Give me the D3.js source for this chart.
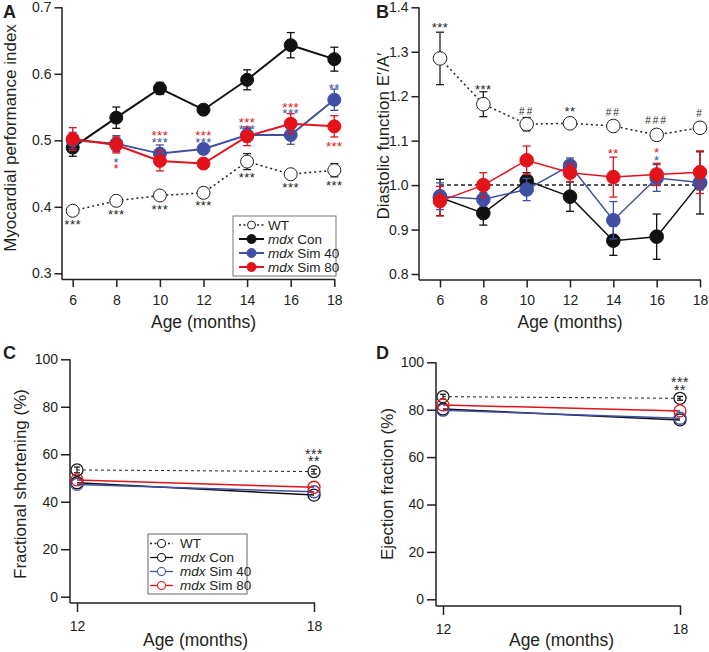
<!DOCTYPE html>
<html><head><meta charset="utf-8">
<script src="https://cdn.jsdelivr.net/npm/d3@7"></script>
<style>
body{margin:0;background:#fff;}
svg text{font-family:"Liberation Sans",Arial,Helvetica,sans-serif;}
</style></head><body>
<svg id="c" width="709" height="652"></svg>
<script>
// ---------- DATA ----------
const ages = [6, 8, 10, 12, 14, 16, 18];
const ageTicks = [6, 8, 10, 12, 14, 16, 18];
const seriesNames = ["WT", "mdx Con", "mdx Sim 40", "mdx Sim 80"];

// Panel A: Myocardial performance index
const mpiWT = [0.394, 0.409, 0.417, 0.421, 0.468, 0.449, 0.455];
const mpiWTErr = [0.006, 0.005, 0.005, 0.005, 0.012, 0.006, 0.010];
const mpiCon = [0.489, 0.534, 0.578, 0.546, 0.591, 0.643, 0.622];
const mpiConErr = [0.013, 0.016, 0.009, 0.004, 0.015, 0.019, 0.018];
const mpiS40 = [0.500, 0.495, 0.480, 0.487, 0.508, 0.508, 0.561];
const mpiS40Err = [0.012, 0.012, 0.013, 0.004, 0.010, 0.014, 0.016];
const mpiS80 = [0.502, 0.493, 0.469, 0.465, 0.506, 0.525, 0.521];
const mpiS80Err = [0.017, 0.012, 0.015, 0.004, 0.014, 0.015, 0.016];
const mpiTicks = [0.3, 0.4, 0.5, 0.6, 0.7];
// significance marks: [age, value, text, series]
const mpiMarks = [
  [6, 0.3786, "***", "WT"], [8, 0.3936, "***", "WT"], [10, 0.4012, "***", "WT"],
  [12, 0.4072, "***", "WT"], [14, 0.4493, "***", "WT"], [16, 0.4343, "***", "WT"],
  [18, 0.4373, "***", "WT"],
  [8, 0.4714, "*", "mdx Sim 40"], [8, 0.4629, "*", "mdx Sim 80"],
  [10, 0.512, "***", "mdx Sim 80"], [10, 0.5024, "***", "mdx Sim 40"],
  [12, 0.512, "***", "mdx Sim 80"], [12, 0.5024, "***", "mdx Sim 40"],
  [14, 0.5316, "***", "mdx Sim 80"], [14, 0.5215, "***", "mdx Sim 40"],
  [16, 0.5541, "***", "mdx Sim 80"], [16, 0.5456, "***", "mdx Sim 40"],
  [18, 0.5832, "**", "mdx Sim 40"], [18, 0.4964, "***", "mdx Sim 80"]
];

// Panel B: Diastolic function E'/A'
const eaWT = [1.285, 1.182, 1.137, 1.139, 1.133, 1.113, 1.129];
const eaWTErr = [0.059, 0.028, 0.015, 0.010, 0.010, 0.012, 0.012];
const eaCon = [0.972, 0.937, 1.010, 0.974, 0.875, 0.884, 1.005];
const eaConErr = [0.041, 0.027, 0.018, 0.033, 0.033, 0.051, 0.070];
const eaS40 = [0.975, 0.968, 0.990, 1.044, 0.921, 1.016, 1.006];
const eaS40Err = [0.030, 0.015, 0.025, 0.017, 0.042, 0.030, 0.017];
const eaS80 = [0.964, 1.000, 1.056, 1.028, 1.018, 1.024, 1.029];
const eaS80Err = [0.033, 0.028, 0.032, 0.020, 0.045, 0.025, 0.048];
const eaTicks = [0.8, 0.9, 1.0, 1.1, 1.2, 1.3, 1.4];
const eaRef = 1.0;
const eaMarks = [
  [6, 1.3624, "***", "WT"], [8, 1.223, "***", "WT"], [10, 1.1667, "##", "WT"],
  [12, 1.1728, "**", "WT"], [14, 1.1629, "##", "WT"], [16, 1.1465, "###", "WT"],
  [18, 1.1615, "#", "WT"],
  [14, 1.079, "**", "mdx Sim 80"], [16, 1.0805, "*", "mdx Sim 80"], [16, 1.0639, "*", "mdx Sim 40"]
];

// Panels C & D
const agesCD = [12, 18];
const fsWT = [53.4, 52.7];
const fsWTErr = [1.2, 1.0];
const fsCon = [48.0, 42.8];
const fsS40 = [47.3, 44.2];
const fsS80 = [49.2, 46.1];
const efWT = [85.5, 84.8];
const efWTErr = [1.0, 0.8];
const efCon = [80.3, 75.7];
const efS40 = [79.8, 76.4];
const efS80 = [82.0, 79.5];
const pctTicks = [0, 20, 40, 60, 80, 100];
const fsMarks = [[18, 61.8, "***", "WT"], [18, 58.6, "**", "WT"]];
const efMarks = [[18, 93.1, "***", "WT"], [18, 90.0, "**", "WT"]];

// ---------- STYLE ----------
const colors = {"WT": "#231f20", "mdx Con": "#111111", "mdx Sim 40": "#4150a4", "mdx Sim 80": "#e3131b"};
const svg = d3.select("#c");
const FONT_TICK = 14, FONT_TITLE = 17;
const INK = "#231f20";

function drawAxes(g, x, y, o) {
  g.append("line").attr("x1", o.left).attr("x2", o.left).attr("y1", y(o.yMax)).attr("y2", o.bottom)
    .attr("stroke", INK).attr("stroke-width", 1.5);
  g.append("line").attr("x1", o.left).attr("x2", x(o.xMax) + 1).attr("y1", o.bottom).attr("y2", o.bottom)
    .attr("stroke", INK).attr("stroke-width", 1.5);
  const ya = g.append("g").attr("transform", `translate(${o.left},0)`)
    .call(d3.axisLeft(y).tickValues(o.yTicks).tickFormat(o.yFmt).tickSize(o.tick).tickPadding(3));
  ya.select(".domain").remove();
  const xa = g.append("g").attr("transform", `translate(0,${o.bottom})`)
    .call(d3.axisBottom(x).tickValues(o.xTicks).tickFormat(d3.format("d")).tickSize(o.tick).tickPadding(o.xPad));
  xa.select(".domain").remove();
  [ya, xa].forEach(a => {
    a.selectAll("line").attr("stroke", INK).attr("stroke-width", 1.5);
    a.selectAll("text").attr("font-size", FONT_TICK).attr("fill", INK)
      .style("font-family", '"Liberation Sans",Arial,sans-serif');
  });
  g.append("text").attr("x", (x(o.xTicks[0]) + x(o.xMax)) / 2).attr("y", o.titleY).attr("fill", INK)
    .attr("text-anchor", "middle").attr("font-size", FONT_TITLE + 0.5).text("Age (months)");
  g.append("text").attr("transform", `translate(${o.yTitleX},${o.yTitleY}) rotate(-90)`).attr("fill", INK)
    .attr("text-anchor", "middle").attr("font-size", FONT_TITLE).text(o.yTitle);
  g.append("text").attr("x", o.letterX).attr("y", o.letterY).attr("font-size", 18).attr("fill", INK)
    .attr("font-weight", "bold").text(o.letter);
}

function errorBars(g, x, y, xs, vs, es, color, cap, sw) {
  xs.forEach((a, i) => {
    const cx = x(a), y0 = y(vs[i] - es[i]), y1 = y(vs[i] + es[i]);
    g.append("line").attr("x1", cx).attr("x2", cx).attr("y1", y0).attr("y2", y1).attr("stroke", color).attr("stroke-width", sw);
    [y0, y1].forEach(yy => g.append("line").attr("x1", cx - cap).attr("x2", cx + cap).attr("y1", yy).attr("y2", yy)
      .attr("stroke", color).attr("stroke-width", sw));
  });
}

// stacked marks at the same age that sit close together share one text element
function marks(g, x, y, list, fs) {
  const groups = [];
  list.forEach(m => {
    const grp = groups.find(gr => gr[0][0] === m[0] && Math.abs(y(gr[0][1]) - y(m[1])) < 16);
    if (grp) grp.push(m); else groups.push([m]);
  });
  groups.forEach(gr => {
    const t = g.append("text").attr("text-anchor", "middle");
    gr.forEach(m => {
      const isHash = m[2].indexOf("#") >= 0;
      t.append("tspan").attr("x", x(m[0])).attr("y", y(m[1]))
        .attr("dy", isHash ? "0.36em" : "0.62em")
        .attr("font-size", isHash ? 10 : fs)
        .attr("letter-spacing", isHash ? 2 : 0.5)
        .style("fill", colors[m[3]]).text(m[2]);
    });
  });
}

// ---------- PANEL A ----------
{
  const x = d3.scaleLinear().domain([6, 18]).range([72.7, 334.3]);
  const y = d3.scaleLinear().domain([0.3, 0.7]).range([273.3, 7.3]);
  const g = svg.append("g");
  drawAxes(g, x, y, {left: 62, bottom: 279.5, yMax: 0.7, xMax: 18, yTicks: mpiTicks, yFmt: d3.format(".1f"),
    xTicks: ageTicks, tick: 7.5, xPad: 8, titleY: 328, yTitleX: 16, yTitleY: 138,
    yTitle: "Myocardial performance index", letter: "A", letterX: 3, letterY: 18});
  const line = d3.line().x((d, i) => x(ages[i])).y(d => y(d));
  const sets = [
    ["WT", mpiWT, mpiWTErr], ["mdx Con", mpiCon, mpiConErr],
    ["mdx Sim 40", mpiS40, mpiS40Err], ["mdx Sim 80", mpiS80, mpiS80Err]];
  sets.forEach(([name, v, e]) => {
    const c = colors[name];
    g.append("path").attr("d", line(v)).attr("fill", "none").attr("stroke", c)
      .attr("stroke-width", name === "WT" ? 1.5 : 2).attr("stroke-dasharray", name === "WT" ? "2,3" : null);
    errorBars(g, x, y, ages, v, e, c, 4, 1.3);
    g.selectAll(null).data(v).enter().append("circle")
      .attr("cx", (d, i) => x(ages[i])).attr("cy", d => y(d)).attr("r", 6.5)
      .attr("fill", name === "WT" ? "#fff" : c).attr("stroke", name === "WT" ? INK : c).attr("stroke-width", 1);
  });
  marks(g, x, y, mpiMarks, 13);
  const lg = g.append("g");
  lg.append("rect").attr("x", 233).attr("y", 216).attr("width", 103).attr("height", 60)
    .attr("fill", "#fff").attr("stroke", "#777").attr("stroke-width", 1);
  seriesNames.forEach((n, i) => {
    const yy = 225 + i * 14;
    lg.append("line").attr("x1", 239).attr("x2", 264).attr("y1", yy).attr("y2", yy).attr("stroke", colors[n])
      .attr("stroke-width", n === "WT" ? 1.5 : 2).attr("stroke-dasharray", n === "WT" ? "2,2.5" : null);
    lg.append("circle").attr("cx", 251.5).attr("cy", yy).attr("r", n === "WT" ? 4 : 4.5)
      .attr("fill", n === "WT" ? "#fff" : colors[n]).attr("stroke", colors[n]).attr("stroke-width", 1);
    const t = lg.append("text").attr("x", 268).attr("y", yy).attr("dy", "0.36em").attr("font-size", 13.5).attr("fill", INK);
    if (n === "WT") t.text("WT");
    else { t.append("tspan").attr("font-style", "italic").text("mdx"); t.append("tspan").text(n.slice(3)); }
  });
}

// ---------- PANEL B ----------
{
  const x = d3.scaleLinear().domain([6, 18]).range([440, 700]);
  const y = d3.scaleLinear().domain([0.8, 1.4]).range([274, 7.3]);
  const g = svg.append("g");
  drawAxes(g, x, y, {left: 419, bottom: 280, yMax: 1.4, xMax: 18, yTicks: eaTicks, yFmt: d3.format(".1f"),
    xTicks: ageTicks, tick: 7.5, xPad: 8, titleY: 328, yTitleX: 389, yTitleY: 136,
    yTitle: "Diastolic function E\u2032/A\u2032", letter: "B", letterX: 376, letterY: 18});
  g.append("line").attr("x1", x(6)).attr("x2", x(18)).attr("y1", y(eaRef)).attr("y2", y(eaRef))
    .attr("stroke", INK).attr("stroke-width", 1.5).attr("stroke-dasharray", "4,3");
  const line = d3.line().x((d, i) => x(ages[i])).y(d => y(d));
  const sets = [
    ["WT", eaWT, eaWTErr], ["mdx Con", eaCon, eaConErr],
    ["mdx Sim 40", eaS40, eaS40Err], ["mdx Sim 80", eaS80, eaS80Err]];
  sets.forEach(([name, v, e]) => {
    const c = colors[name];
    g.append("path").attr("d", line(v)).attr("fill", "none").attr("stroke", c)
      .attr("stroke-width", 1.5).attr("stroke-dasharray", name === "WT" ? "2,3" : null);
    errorBars(g, x, y, ages, v, e, c, 4, 1.3);
    g.selectAll(null).data(v).enter().append("circle")
      .attr("cx", (d, i) => x(ages[i])).attr("cy", d => y(d)).attr("r", 6.8)
      .attr("fill", name === "WT" ? "#fff" : c).attr("stroke", name === "WT" ? INK : c).attr("stroke-width", 1);
  });
  marks(g, x, y, eaMarks, 13);
}

// ---------- PANELS C & D ----------
function panelCD(o) {
  const x = d3.scaleLinear().domain([12, 18]).range(o.xr);
  const y = d3.scaleLinear().domain([0, 100]).range(o.yr);
  const g = svg.append("g");
  drawAxes(g, x, y, {left: o.left, bottom: o.bottom, yMax: 100, xMax: 18, yTicks: pctTicks, yFmt: d3.format("d"),
    xTicks: agesCD, tick: 9, xPad: 9, titleY: 646, yTitleX: o.ytx, yTitleY: 484,
    yTitle: o.title, letter: o.letter, letterX: o.lx, letterY: 359});
  const line = d3.line().x((d, i) => x(agesCD[i])).y(d => y(d));
  const sets = [["WT", o.wt], ["mdx Con", o.con], ["mdx Sim 40", o.s40], ["mdx Sim 80", o.s80]];
  sets.forEach(([name, v]) => {
    const c = colors[name];
    g.append("path").attr("d", line(v)).attr("fill", "none").attr("stroke", c)
      .attr("stroke-width", name === "WT" ? 1 : 1.5).attr("stroke-dasharray", name === "WT" ? "3,3" : null);
    if (name === "WT") errorBars(g, x, y, agesCD, v, o.wtErr, c, 3, 1.3);
    g.selectAll(null).data(v).enter().append("circle")
      .attr("cx", (d, i) => x(agesCD[i])).attr("cy", d => y(d)).attr("r", 6)
      .attr("fill", "none").attr("stroke", c).attr("stroke-width", 1.3);
  });
  marks(g, x, y, o.marks, 14);
  return g;
}
const gC = panelCD({xr: [77, 314], yr: [596.7, 359.3], left: 70, bottom: 603, ytx: 26, letter: "C", lx: 3,
  title: "Fractional shortening (%)", wt: fsWT, wtErr: fsWTErr, con: fsCon, s40: fsS40, s80: fsS80, marks: fsMarks});
panelCD({xr: [443, 680], yr: [599.3, 362.3], left: 436, bottom: 606, ytx: 393, letter: "D", lx: 376,
  title: "Ejection fraction (%)", wt: efWT, wtErr: efWTErr, con: efCon, s40: efS40, s80: efS80, marks: efMarks});

{
  const lg = gC.append("g");
  lg.append("rect").attr("x", 148).attr("y", 534).attr("width", 99).attr("height", 60)
    .attr("fill", "#fff").attr("stroke", "#666").attr("stroke-width", 1);
  seriesNames.forEach((n, i) => {
    const yy = 543.5 + i * 14;
    lg.append("line").attr("x1", 150).attr("x2", 173).attr("y1", yy).attr("y2", yy).attr("stroke", colors[n])
      .attr("stroke-width", 1.3).attr("stroke-dasharray", n === "WT" ? "2,2.5" : null);
    lg.append("circle").attr("cx", 161.5).attr("cy", yy).attr("r", 4)
      .attr("fill", "#fff").attr("stroke", colors[n]).attr("stroke-width", 1.1);
    const t = lg.append("text").attr("x", 180).attr("y", yy).attr("dy", "0.36em").attr("font-size", 13.5).attr("fill", INK);
    if (n === "WT") t.text("WT");
    else { t.append("tspan").attr("font-style", "italic").text("mdx"); t.append("tspan").text(n.slice(3)); }
  });
}
</script>
</body></html>
